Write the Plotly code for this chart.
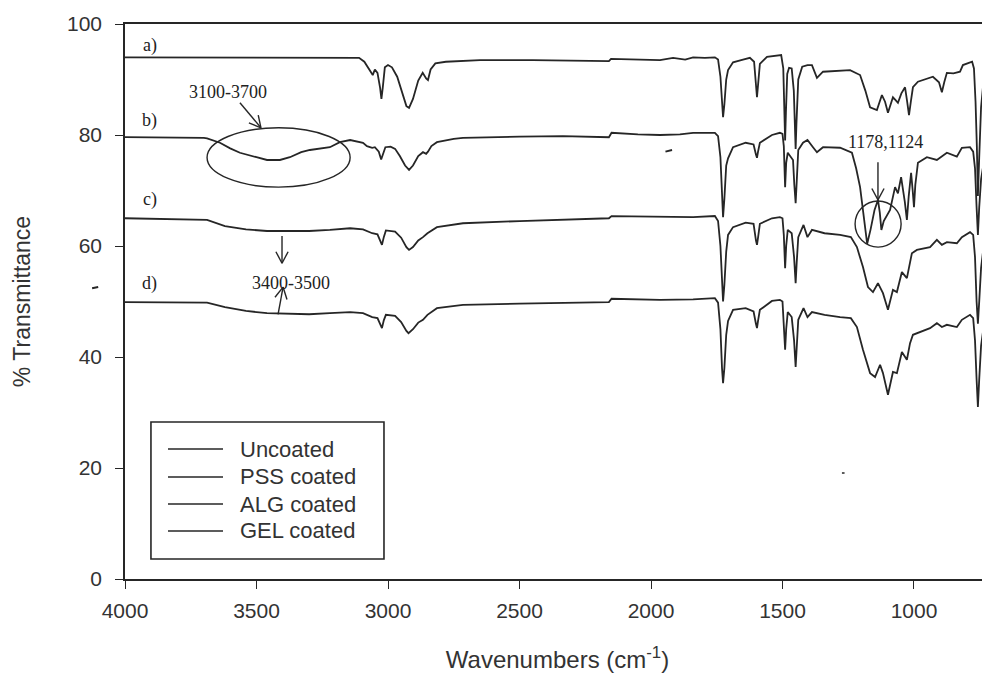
import math
import plotly.graph_objects as go

# ---------------- data ----------------
uncoated_w = [4000, 3850, 3700, 3500, 3300, 3150, 3110, 3090, 3070, 3058, 3050, 3040, 3030, 3025, 3020,
              3012, 3000, 2985, 2965, 2945, 2930, 2920, 2905, 2885, 2868, 2855, 2848, 2838, 2820, 2780,
              2650, 2450, 2300, 2160, 2152, 2050, 1966, 1916, 1870, 1840, 1795, 1757, 1745, 1736, 1730,
              1726, 1721, 1714, 1707, 1688, 1650, 1624, 1608, 1601, 1597, 1593, 1586, 1559, 1520, 1505,
              1497, 1493, 1490, 1487, 1482, 1475, 1465, 1457, 1453, 1450, 1447, 1440, 1425, 1405, 1388,
              1369, 1346, 1300, 1243, 1205, 1185, 1167, 1141, 1122, 1110, 1099, 1088, 1080, 1070, 1061,
              1048, 1034, 1026, 1019, 1012, 1004, 985, 966, 945, 928, 905, 894, 885, 875, 850, 825, 814,
              795, 779, 772, 766, 761, 757, 752, 745, 735, 722, 712]
uncoated_t = [94.0, 94.0, 93.9, 94.0, 94.0, 94.0, 93.9, 93.2, 91.8, 90.8, 91.8, 91.2, 88.5, 86.5, 88.5,
              92.2, 92.6, 92.2, 90.5, 87.5, 85.2, 84.9, 86.5, 89.8, 91.2, 90.2, 89.9, 91.8, 92.9, 93.2,
              93.5, 93.5, 93.4, 93.3, 93.7, 93.6, 93.5, 93.9, 93.6, 94.0, 93.9, 94.0, 93.6, 90.5, 85.5,
              83.2, 85.5, 90.0, 91.7, 93.1, 93.6, 93.9, 93.2, 88.5, 86.8, 89.0, 92.8, 94.1, 94.3, 94.4,
              92.0, 84.0, 79.0, 84.0, 91.0, 92.1, 92.0, 88.0, 82.0, 77.5, 82.0, 90.0, 92.3, 92.6, 92.6,
              90.3, 91.4, 91.5, 91.7, 90.8, 88.0, 85.0, 84.5, 87.2, 86.0, 84.0, 85.8, 86.8, 86.3, 85.8,
              87.5, 88.6, 86.0, 83.6, 86.0, 88.6, 89.6, 89.9, 90.3, 90.5, 89.5, 87.7, 89.5, 91.2, 91.1,
              91.4, 92.6, 93.0, 93.2, 92.0, 86.0, 78.0, 69.0, 76.0, 85.0, 90.0, 92.5, 93.2]

pss_w = [4000, 3850, 3700, 3688, 3660, 3639, 3600, 3563, 3500, 3460, 3411, 3373, 3330, 3297, 3221,
         3183, 3144, 3110, 3095, 3080, 3060, 3050, 3035, 3026, 3018, 3010, 2990, 2973, 2955, 2935,
         2920, 2905, 2885, 2867, 2855, 2848, 2835, 2814, 2750, 2715, 2500, 2335, 2160, 2150, 2050,
         1966, 1890, 1840, 1757, 1745, 1736, 1730, 1726, 1721, 1714, 1707, 1688, 1640, 1610, 1601,
         1597, 1593, 1586, 1540, 1510, 1500, 1495, 1490, 1486, 1480, 1470, 1460, 1455, 1450, 1446,
         1440, 1422, 1405, 1384, 1369, 1346, 1281, 1236, 1220, 1205, 1190, 1178, 1165, 1150, 1137,
         1130, 1124, 1115, 1091, 1072, 1061, 1049, 1035, 1027, 1020, 1011, 1005, 1000, 995, 985,
         951, 913, 875, 837, 818, 787, 775, 768, 762, 757, 752, 745, 735, 722, 712]
pss_t = [79.6, 79.6, 79.5, 79.4, 79.0, 78.6, 77.6, 76.8, 76.0, 75.5, 75.5, 76.0, 76.9, 77.3, 77.8,
         78.7, 79.1, 78.8, 78.6, 78.0, 77.7, 77.8, 77.0, 75.6, 76.8, 77.8, 77.9, 77.5, 76.2, 74.5,
         73.7, 74.5, 76.2, 76.9, 76.6, 77.0, 78.0, 78.7, 79.3, 79.5, 79.7, 79.8, 79.6, 80.4, 80.1,
         80.0, 80.1, 80.4, 80.4, 79.8, 76.0, 69.0, 65.2, 68.5, 74.5, 75.8, 77.8, 78.6, 78.3, 76.5,
         75.9, 77.0, 78.6, 80.0, 80.4, 80.2, 78.0, 70.6, 75.0, 76.8, 76.2, 75.5, 71.0, 67.7, 71.5,
         77.3, 78.6, 79.1, 77.8, 76.9, 77.8, 77.7, 76.8, 74.0, 70.6, 65.0, 60.4, 63.0, 66.5, 68.3,
         66.0, 62.9, 64.5, 66.5, 70.6, 69.5, 72.4, 68.0, 64.7, 69.0, 73.2, 70.0, 67.0, 71.0, 75.0,
         76.0, 75.5, 76.8, 76.1, 77.7, 77.8, 77.0, 74.0, 67.0, 62.0, 67.0, 72.0, 75.0, 76.5, 77.0]

alg_w = [4000, 3850, 3700, 3688, 3620, 3540, 3460, 3300, 3221, 3144, 3095, 3060, 3040, 3028, 3023,
         3016, 3008, 2973, 2950, 2930, 2920, 2905, 2885, 2867, 2850, 2814, 2715, 2500, 2335, 2160,
         2150, 2050, 1966, 1840, 1757, 1745, 1736, 1730, 1726, 1721, 1714, 1707, 1688, 1640, 1610,
         1601, 1597, 1593, 1586, 1540, 1510, 1500, 1495, 1490, 1486, 1480, 1465, 1456, 1450, 1446,
         1440, 1420, 1405, 1388, 1340, 1281, 1240, 1217, 1194, 1175, 1156, 1137, 1118, 1099, 1080,
         1065, 1046, 1027, 1015, 1008, 989, 939, 913, 894, 875, 837, 818, 787, 775, 768, 762, 757,
         752, 745, 735, 722, 712]
alg_t = [65.0, 64.9, 64.7, 64.7, 63.6, 63.0, 62.7, 62.7, 62.9, 63.2, 63.0, 62.3, 62.1, 60.5, 60.2,
         61.6, 62.8, 62.6, 61.5, 59.8, 59.3, 59.8, 61.0, 61.6, 62.3, 63.4, 64.1, 64.5, 64.7, 65.0,
         65.4, 65.3, 65.2, 65.2, 65.4, 64.5, 60.0, 53.0, 50.0, 53.0, 59.0, 62.0, 63.4, 64.2, 64.0,
         61.0, 60.2, 61.5, 64.0, 65.0, 65.2, 65.0, 62.0, 56.0, 60.0, 62.9, 62.3, 58.0, 53.3, 57.0,
         61.6, 63.8, 61.6, 62.9, 62.3, 62.0, 61.6, 59.8, 56.2, 52.6, 51.7, 53.3, 51.5, 48.5, 52.1,
         51.7, 55.3, 54.2, 56.9, 58.7, 59.3, 59.8, 61.1, 60.2, 60.7, 60.5, 61.6, 62.5, 62.0, 58.0,
         50.0, 46.0, 50.0, 56.0, 60.0, 61.8, 62.2]

gel_w = [4000, 3850, 3700, 3688, 3620, 3540, 3460, 3300, 3221, 3144, 3095, 3060, 3040, 3028, 3023,
         3016, 3008, 2973, 2950, 2930, 2922, 2905, 2885, 2867, 2850, 2814, 2715, 2500, 2335, 2160,
         2150, 2050, 1966, 1840, 1757, 1745, 1736, 1730, 1726, 1721, 1714, 1707, 1688, 1640, 1610,
         1601, 1597, 1593, 1586, 1540, 1510, 1500, 1495, 1490, 1486, 1480, 1465, 1456, 1450, 1446,
         1440, 1420, 1405, 1388, 1340, 1281, 1240, 1217, 1194, 1167, 1148, 1129, 1118, 1099, 1080,
         1065, 1046, 1027, 1015, 1004, 977, 939, 913, 894, 875, 837, 818, 787, 775, 768, 762, 757,
         752, 745, 735, 722, 712]
gel_t = [49.9, 49.9, 49.8, 49.8, 49.0, 48.3, 47.9, 47.7, 47.9, 48.1, 47.9, 47.2, 47.0, 45.5, 45.2,
         46.6, 47.6, 47.4, 46.3, 44.7, 44.3, 45.0, 46.2, 46.7, 47.6, 48.8, 49.4, 49.6, 49.7, 49.9,
         50.5, 50.4, 50.3, 50.4, 50.6, 49.8, 45.0, 38.0, 35.3, 38.0, 44.0, 46.5, 48.5, 48.8, 48.2,
         46.0, 45.2, 46.5, 48.5, 50.1, 50.3, 50.0, 46.0, 41.3, 45.0, 48.1, 47.2, 43.0, 38.2, 42.0,
         46.7, 48.8, 47.2, 48.1, 47.6, 47.2, 47.0, 45.4, 41.3, 37.1, 36.4, 38.6, 37.1, 33.2, 37.3,
         37.1, 40.9, 39.5, 42.5, 44.0, 44.5, 45.2, 46.1, 45.4, 45.8, 45.4, 46.7, 47.6, 47.0, 43.0,
         36.0, 31.0, 36.0, 42.0, 45.5, 47.2, 47.6]

series_names = ["Uncoated", "PSS coated", "ALG coated", "GEL coated"]
series_w = [uncoated_w, pss_w, alg_w, gel_w]
series_t = [uncoated_t, pss_t, alg_t, gel_t]

x_ticks = [4000, 3500, 3000, 2500, 2000, 1500, 1000]
y_ticks = [0, 20, 40, 60, 80, 100]

# ---------------- layout constants ----------------
# the page body has an 8px margin, so the figure is made 8px smaller and
# its margins reduced to land the plot area where the reference has it
W, H = 982, 666
ML, MR, MT, MB = 117, 0, 16, 95
XR = [4000, 711]
YR = [0, 100]
PW, PH = W - ML - MR, H - MT - MB
INK = "#262626"
TXT = "#333333"
SANS = "Liberation Sans, Arial, sans-serif"
SERIF = "Liberation Serif, Times New Roman, serif"


def to_px(w, t):
    return (ML + (XR[0] - w) / (XR[0] - XR[1]) * PW,
            MT + (YR[1] - t) / (YR[1] - YR[0]) * PH)


def to_data(px, py):
    return (XR[0] - (px - ML) / PW * (XR[0] - XR[1]),
            YR[1] - (py - MT) / PH * (YR[1] - YR[0]))


fig = go.Figure()
for name, xs, ys in zip(series_names, series_w, series_t):
    fig.add_trace(go.Scatter(x=xs, y=ys, mode="lines", name=name, showlegend=False,
                             line=dict(color=INK, width=1.8)))

shapes = []


def add_arrow(tail, tip, head=13, ang=28):
    shapes.append(dict(type="line", xref="x", yref="y", x0=tail[0], y0=tail[1],
                       x1=tip[0], y1=tip[1], line=dict(color=INK, width=1.4)))
    tx, ty = to_px(*tail)
    hx, hy = to_px(*tip)
    a = math.atan2(ty - hy, tx - hx)
    for s in (-1, 1):
        bx = hx + head * math.cos(a + s * math.radians(ang))
        by = hy + head * math.sin(a + s * math.radians(ang))
        bw, bt = to_data(bx, by)
        shapes.append(dict(type="line", xref="x", yref="y", x0=bw, y0=bt,
                           x1=tip[0], y1=tip[1], line=dict(color=INK, width=1.4)))


add_arrow((3563, 85.8), (3483, 81.3))
add_arrow((3403, 61.8), (3403, 56.9))
add_arrow((3418, 47.7), (3399, 52.6))
add_arrow((1137, 75.1), (1137, 68.3))

# ellipse / circle highlights
shapes.append(dict(type="circle", xref="x", yref="y", x0=3688, x1=3144, y0=70.6, y1=81.3,
                   line=dict(color=INK, width=1.4)))
shapes.append(dict(type="circle", xref="x", yref="y", x0=1224, x1=1049, y0=59.8, y1=68.1,
                   line=dict(color=INK, width=1.4)))

# small scan marks
shapes.append(dict(type="line", xref="paper", yref="paper", x0=-0.038, x1=-0.031,
                   y0=0.524, y1=0.526, line=dict(color=INK, width=2)))
shapes.append(dict(type="line", xref="x", yref="y", x0=1945, x1=1920, y0=77.0, y1=77.3,
                   line=dict(color=INK, width=2)))
shapes.append(dict(type="line", xref="x", yref="y", x0=1274, x1=1264, y0=19.1, y1=19.1,
                   line=dict(color=INK, width=1.5)))

annotations = []
for txt, w, t in [("a)", 3905, 96.2), ("b)", 3905, 82.7), ("c)", 3905, 68.3), ("d)", 3907, 53.3),
                  ("3100-3700", 3608, 87.7), ("3400-3500", 3369, 53.3), ("1178,1124", 1110, 78.7)]:
    annotations.append(dict(x=w, y=t, xref="x", yref="y", text=txt, showarrow=False,
                            font=dict(family=SERIF, size=18, color="#222")))

# legend box (drawn in paper coordinates, same look as the reference)
LEG_X0, LEG_X1, LEG_Y0, LEG_Y1 = 0.030, 0.2994, 0.036, 0.2829
LINE_X0, LINE_X1, TEXT_X = 0.0497, 0.1133, 0.1306
LEG_ROWS = [0.2342, 0.1838, 0.1351, 0.0865]
shapes.append(dict(type="rect", xref="paper", yref="paper", x0=LEG_X0, x1=LEG_X1,
                   y0=LEG_Y0, y1=LEG_Y1, line=dict(color=INK, width=1.6), fillcolor="white",
                   layer="above"))
for name, ry in zip(series_names, LEG_ROWS):
    shapes.append(dict(type="line", xref="paper", yref="paper", x0=LINE_X0, x1=LINE_X1,
                       y0=ry, y1=ry, line=dict(color=INK, width=1.6)))
    annotations.append(dict(x=TEXT_X, y=ry, xref="paper", yref="paper", text=name,
                            showarrow=False, xanchor="left", yanchor="middle",
                            font=dict(family=SANS, size=22, color=TXT)))

fig.update_layout(
    width=W, height=H, autosize=False,
    margin=dict(l=ML, r=MR, t=MT, b=MB, pad=0, autoexpand=False),
    paper_bgcolor="white", plot_bgcolor="white",
    showlegend=False,
    shapes=shapes, annotations=annotations,
)
fig.update_xaxes(range=XR, tickvals=x_ticks, ticks="outside", ticklen=8, tickcolor=INK,
                 showline=True, linecolor=INK, linewidth=1.5, mirror=True, showgrid=False,
                 zeroline=False, automargin=False, ticklabelstandoff=4,
                 tickfont=dict(family=SANS, size=21, color=TXT),
                 title=dict(text="Wavenumbers (cm<sup>-1</sup>)",
                            font=dict(family=SANS, size=24, color=TXT), standoff=30))
fig.update_yaxes(range=YR, tickvals=y_ticks, ticks="outside", ticklen=8, tickcolor=INK,
                 showline=True, linecolor=INK, linewidth=1.5, showgrid=False, zeroline=False,
                 automargin=False, ticklabelstandoff=9,
                 tickfont=dict(family=SANS, size=21, color=TXT),
                 title=dict(text="% Transmittance",
                            font=dict(family=SANS, size=23, color=TXT), standoff=30))

fig.write_html("out.html")
